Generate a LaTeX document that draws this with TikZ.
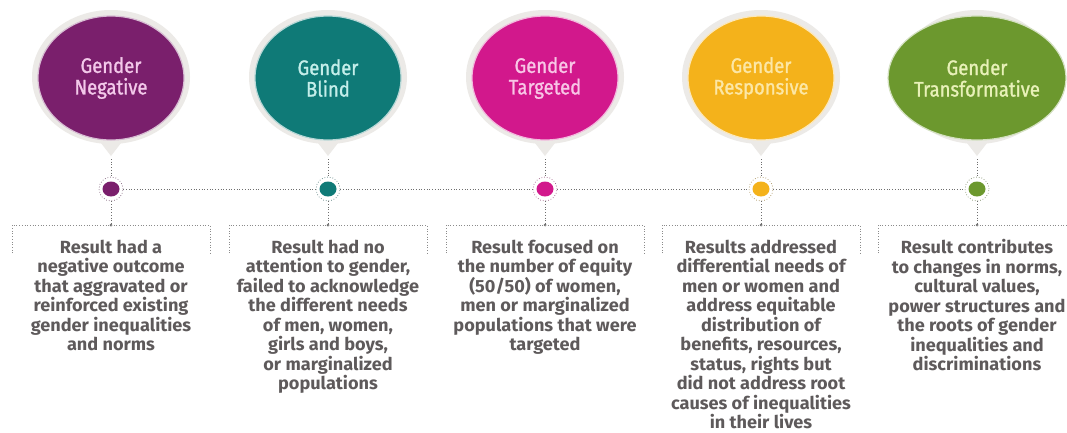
\documentclass[tikz,border=0pt]{standalone}
\usepackage{fontspec}
\usetikzlibrary{shapes.geometric}
\newfontfamily\circfont{Fira Sans}[FakeStretch=0.88,FakeBold=1.2]
\newfontfamily\descfont{Fira Sans}[FakeStretch=1.03]
\definecolor{cPurple}{HTML}{7A1F6C}
\definecolor{cTeal}{HTML}{0F7A77}
\definecolor{cMagenta}{HTML}{D2188C}
\definecolor{cOrange}{HTML}{F4B21B}
\definecolor{cGreen}{HTML}{6C982E}
\definecolor{tPurple}{HTML}{F3C9EA}
\definecolor{tTeal}{HTML}{C4EEEA}
\definecolor{tMagenta}{HTML}{F8C6E6}
\definecolor{tOrange}{HTML}{FCE7A6}
\definecolor{tGreen}{HTML}{E8F1B8}
\definecolor{ringgray}{HTML}{ECEAE7}
\definecolor{linegray}{HTML}{6E6E6E}
\definecolor{textgray}{HTML}{5E5A5B}
\tikzset{
  ringshape/.style={ellipse, minimum width=158pt, minimum height=134pt, inner sep=0pt, fill=ringgray},
  bubble/.style={ellipse, minimum width=146pt, minimum height=124pt, inner sep=0pt, fill=#1, draw=#1!30!white, line width=1.2pt},
  bubbletext/.style={text=#1, font=\circfont\fontsize{21}{21.5}\selectfont, align=center},
  dotfill/.style={ellipse, minimum width=17pt, minimum height=15pt, inner sep=0pt, fill=#1},
  dotring/.style={circle, minimum size=24pt, inner sep=0pt, draw=#1!35!gray, dotted, line width=0.7pt},
  dotline/.style={draw=linegray, dotted, line width=0.7pt},
  boxline/.style={draw=linegray!80, dotted, line width=0.7pt},
  desc/.style={text=textgray, font=\descfont\bfseries\fontsize{17.6}{19.5}\selectfont, align=center, inner sep=0pt, anchor=north},
  junction/.style={circle, fill=linegray, inner sep=0pt, minimum size=3pt}
}
\begin{document}
\begin{tikzpicture}[x=1pt,y=-1pt]
\useasboundingbox (0,0) rectangle (1067,432);
\fill[white] (0,0) rectangle (1067,432);
\foreach \i/\cx/\col/\tcol/\txt in {
  1/111/cPurple/tPurple/{Gender\\Negative},
  2/328/cTeal/tTeal/{Gender\\Blind},
  3/545/cMagenta/tMagenta/{Gender\\Targeted},
  4/761/cOrange/tOrange/{Gender\\Responsive},
  5/977/cGreen/tGreen/{Gender\\Transformative}}{
  \fill[ringgray] (\cx-20,130) -- (\cx+20,130) -- (\cx,156) -- cycle;
  \node[ringshape] (r\i) at (\cx,77) {};
  \node[bubble=\col, bubbletext=\tcol] (c\i) at (\cx,78) {\txt};
  \coordinate (p\i) at (\cx,159);
  \node[dotfill=\col] (d\i) at (\cx,189) {};
  \node[dotring=\col] (o\i) at (\cx,189) {};
  \node[junction] (j\i) at (\cx,225) {};
  \coordinate (bl\i) at (\cx-99,253);
  \coordinate (tl\i) at (\cx-99,225);
  \coordinate (tr\i) at (\cx+99,225);
  \coordinate (br\i) at (\cx+99,253);
  \draw[dotline] (p\i) -- (o\i.north);
  \draw[dotline] (o\i.south) -- (j\i);
  \draw[boxline] (bl\i) -- (tl\i) -- (tr\i) -- (br\i);
}
\draw[dotline] (o1.east) -- (o2.west);
\draw[dotline] (o2.east) -- (o3.west);
\draw[dotline] (o3.east) -- (o4.west);
\draw[dotline] (o4.east) -- (o5.west);
\node[desc] (t1) at (111,239.5) {Result had a\\negative outcome\\that aggravated or\\reinforced existing\\gender inequalities\\and norms};
\node[desc] (t2) at (328,239.5) {Result had no\\attention to gender,\\failed to acknowledge\\the different needs\\of men, women,\\girls and boys,\\or marginalized\\populations};
\node[desc] (t3) at (545,239.5) {Result focused on\\the number of equity\\(50/50) of women,\\men or marginalized\\populations that were\\targeted};
\node[desc] (t4) at (761,239.5) {Results addressed\\differential needs of\\men or women and\\address equitable\\distribution of\\benefits, resources,\\status, rights but\\did not address root\\causes of inequalities\\in their lives};
\node[desc] (t5) at (977,239.5) {Result contributes\\to changes in norms,\\cultural values,\\power structures and\\the roots of gender\\inequalities and\\discriminations};
\end{tikzpicture}
\end{document}
